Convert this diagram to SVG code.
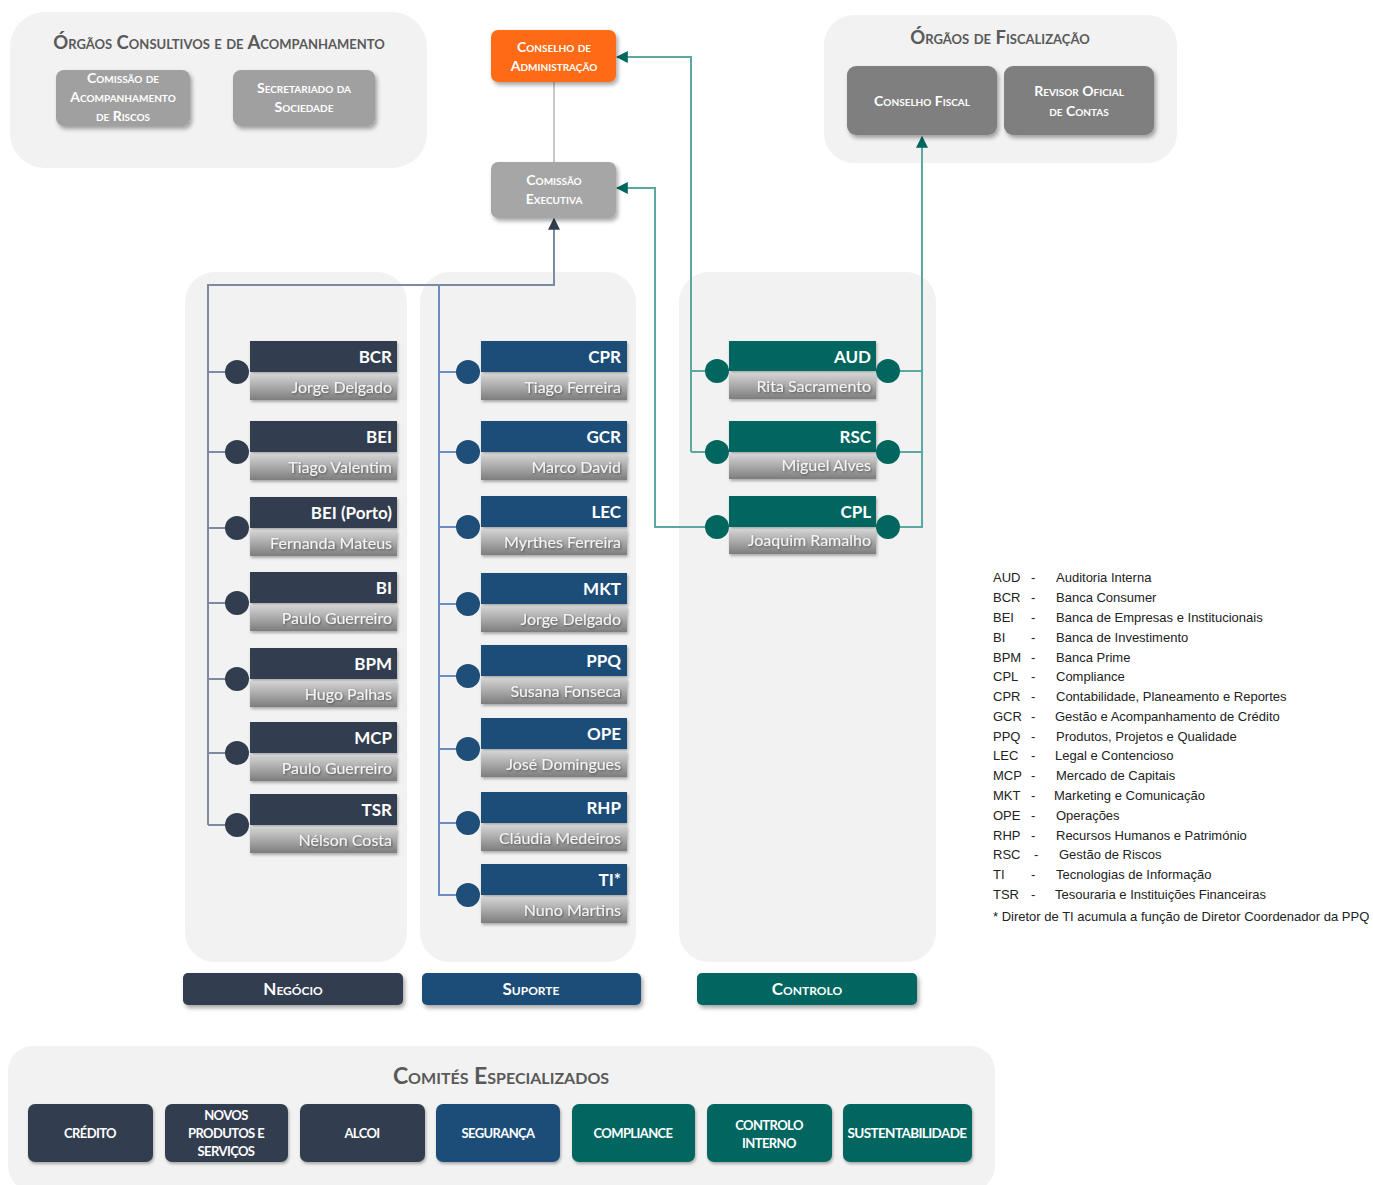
<svg xmlns="http://www.w3.org/2000/svg" width="1373" height="1185" viewBox="0 0 1373 1185">
<defs>
<filter id="sh" x="-20%" y="-20%" width="150%" height="160%"><feDropShadow dx="2" dy="3" stdDeviation="2" flood-color="#000" flood-opacity="0.35"/></filter>
<filter id="sh2" x="-10%" y="-10%" width="130%" height="140%"><feDropShadow dx="1" dy="2" stdDeviation="1.5" flood-color="#000" flood-opacity="0.3"/></filter>
<filter id="tsh" x="-10%" y="-30%" width="130%" height="170%"><feDropShadow dx="1" dy="1" stdDeviation="0.8" flood-color="#000" flood-opacity="0.45"/></filter>
<linearGradient id="ng" x1="0" y1="0" x2="0" y2="1"><stop offset="0" stop-color="#d4d4d4"/><stop offset="0.5" stop-color="#a9a9a9"/><stop offset="1" stop-color="#7d7d7d"/></linearGradient>
<marker id="aTeal" viewBox="0 0 10 10" refX="9" refY="5" markerWidth="12" markerHeight="12" markerUnits="userSpaceOnUse" orient="auto"><path d="M0,0 L10,5 L0,10 z" fill="#00665E"/></marker>
<marker id="aNavy" viewBox="0 0 10 10" refX="9" refY="5" markerWidth="12" markerHeight="12" markerUnits="userSpaceOnUse" orient="auto"><path d="M0,0 L10,5 L0,10 z" fill="#323E4F"/></marker>
</defs>
<style>
.panel{fill:#F2F2F2}
.sc{font-family:Lato,"Liberation Sans",sans-serif;font-variant:small-caps;text-anchor:middle}
.ttl{font-size:18.5px;fill:#595959;font-weight:bold}
.bw{fill:#fff;font-size:14px;font-weight:bold}
.hd{font-family:Lato,"Liberation Sans",sans-serif;font-weight:bold;font-size:17px;fill:#fff;text-anchor:end}
.nm{font-family:Lato,"Liberation Sans",sans-serif;font-size:16px;fill:#f4f4f4;text-anchor:end}
.neg{fill:#323E4F}.sup{fill:#1F4E79}.ctl{fill:#00665E}
.lg{font-family:"Liberation Sans",Arial,sans-serif;font-size:13px;fill:#222}
.cm{font-family:Lato,"Liberation Sans",sans-serif;font-weight:bold;font-size:13px;fill:#fff;text-anchor:middle;letter-spacing:-0.6px}
.cn{fill:none;stroke-width:2}
</style>
<rect width="1373" height="1185" fill="#fff"/>

<!-- panels -->
<rect class="panel" x="10" y="12" width="417" height="156" rx="35"/>
<rect class="panel" x="824" y="15" width="353" height="148" rx="30"/>
<rect class="panel" x="185" y="272" width="222" height="690" rx="30"/>
<rect class="panel" x="420" y="272" width="216" height="690" rx="30"/>
<rect class="panel" x="679" y="272" width="257" height="690" rx="30"/>
<rect class="panel" x="8" y="1046" width="987" height="145" rx="25"/>

<text class="sc ttl" x="219" y="49">Órgãos Consultivos e de Acompanhamento</text>
<text class="sc ttl" x="1000" y="44">Órgãos de Fiscalização</text>
<text class="sc" x="501" y="1084" style="font-size:23px;fill:#595959;font-weight:bold">Comités Especializados</text>

<!-- connectors -->
<g id="connectors">
<line x1="554" y1="82" x2="554" y2="162" stroke="#c8c8c8" stroke-width="2"/>
<polyline class="cn" stroke="#7D8AA0" points="208,825 208,285 554,285 554,219" marker-end="url(#aNavy)"/>
<polyline class="cn" stroke="#6A8FBF" points="439,285 439,895 460,895"/>
<g stroke="#7D8AA0" stroke-width="2">
<line x1="208" y1="372" x2="230" y2="372"/><line x1="208" y1="452" x2="230" y2="452"/><line x1="208" y1="528" x2="230" y2="528"/><line x1="208" y1="603" x2="230" y2="603"/><line x1="208" y1="679" x2="230" y2="679"/><line x1="208" y1="753" x2="230" y2="753"/><line x1="208" y1="825" x2="230" y2="825"/>
</g>
<g stroke="#6A8FBF" stroke-width="2">
<line x1="439" y1="372" x2="460" y2="372"/><line x1="439" y1="452" x2="460" y2="452"/><line x1="439" y1="527" x2="460" y2="527"/><line x1="439" y1="604" x2="460" y2="604"/><line x1="439" y1="676" x2="460" y2="676"/><line x1="439" y1="749" x2="460" y2="749"/><line x1="439" y1="823" x2="460" y2="823"/>
</g>
<polyline class="cn" stroke="#5BA8A2" points="705,371 691,371 691,57 617,57" marker-end="url(#aTeal)"/>
<line x1="691" y1="452" x2="705" y2="452" stroke="#5BA8A2" stroke-width="2"/>
<line x1="691" y1="371" x2="691" y2="452" stroke="#5BA8A2" stroke-width="2"/>
<polyline class="cn" stroke="#5BA8A2" points="705,527 655,527 655,188 617,188" marker-end="url(#aTeal)"/>
<polyline class="cn" stroke="#5BA8A2" points="900,527 922,527 922,137" marker-end="url(#aTeal)"/>
<line x1="900" y1="371" x2="922" y2="371" stroke="#5BA8A2" stroke-width="2"/>
<line x1="900" y1="452" x2="922" y2="452" stroke="#5BA8A2" stroke-width="2"/>
</g>

<!-- top nodes -->
<g id="n-car">
<rect x="56" y="70" width="134" height="56" rx="8" fill="#A0A0A0" filter="url(#sh)"/>
<text class="sc bw" x="123" y="83">Comissão de</text>
<text class="sc bw" x="123" y="102">Acompanhamento</text>
<text class="sc bw" x="123" y="121">de Riscos</text>
</g>
<g id="n-sec">
<rect x="233" y="70" width="142" height="56" rx="8" fill="#A0A0A0" filter="url(#sh)"/>
<text class="sc bw" x="304" y="93">Secretariado da</text>
<text class="sc bw" x="304" y="112">Sociedade</text>
</g>
<g id="n-ca">
<rect x="491" y="30" width="125" height="52" rx="7" fill="#FF6B17" filter="url(#sh)"/>
<text class="sc bw" x="554" y="52">Conselho de</text>
<text class="sc bw" x="554" y="71">Administração</text>
</g>
<g id="n-ce">
<rect x="491" y="162" width="125" height="56" rx="7" fill="#A6A6A6" filter="url(#sh)"/>
<text class="sc bw" x="554" y="185">Comissão</text>
<text class="sc bw" x="554" y="204">Executiva</text>
</g>
<g id="n-cf">
<rect x="847" y="66" width="150" height="69" rx="9" fill="#7F7F7F" filter="url(#sh)"/>
<text class="sc bw" x="922" y="106">Conselho Fiscal</text>
</g>
<g id="n-roc">
<rect x="1004" y="66" width="150" height="69" rx="9" fill="#7F7F7F" filter="url(#sh)"/>
<text class="sc bw" x="1079" y="96">Revisor Oficial</text>
<text class="sc bw" x="1079" y="116">de Contas</text>
</g>

<!-- Negócio nodes -->
<g id="n-bcr"><rect class="neg" x="250" y="341" width="147" height="31" filter="url(#sh2)"/><rect x="250" y="374" width="147" height="26" fill="url(#ng)" filter="url(#sh2)"/><circle class="neg" cx="237" cy="372" r="12"/><text class="hd" x="392" y="363">BCR</text><text class="nm" x="392" y="393" filter="url(#tsh)">Jorge Delgado</text></g>
<g id="n-bei"><rect class="neg" x="250" y="421" width="147" height="31" filter="url(#sh2)"/><rect x="250" y="454" width="147" height="26" fill="url(#ng)" filter="url(#sh2)"/><circle class="neg" cx="237" cy="452" r="12"/><text class="hd" x="392" y="443">BEI</text><text class="nm" x="392" y="473" filter="url(#tsh)">Tiago Valentim</text></g>
<g id="n-beip"><rect class="neg" x="250" y="497" width="147" height="31" filter="url(#sh2)"/><rect x="250" y="530" width="147" height="26" fill="url(#ng)" filter="url(#sh2)"/><circle class="neg" cx="237" cy="528" r="12"/><text class="hd" x="392" y="519">BEI (Porto)</text><text class="nm" x="392" y="549" filter="url(#tsh)">Fernanda Mateus</text></g>
<g id="n-bi"><rect class="neg" x="250" y="572" width="147" height="31" filter="url(#sh2)"/><rect x="250" y="605" width="147" height="26" fill="url(#ng)" filter="url(#sh2)"/><circle class="neg" cx="237" cy="603" r="12"/><text class="hd" x="392" y="594">BI</text><text class="nm" x="392" y="624" filter="url(#tsh)">Paulo Guerreiro</text></g>
<g id="n-bpm"><rect class="neg" x="250" y="648" width="147" height="31" filter="url(#sh2)"/><rect x="250" y="681" width="147" height="26" fill="url(#ng)" filter="url(#sh2)"/><circle class="neg" cx="237" cy="679" r="12"/><text class="hd" x="392" y="670">BPM</text><text class="nm" x="392" y="700" filter="url(#tsh)">Hugo Palhas</text></g>
<g id="n-mcp"><rect class="neg" x="250" y="722" width="147" height="31" filter="url(#sh2)"/><rect x="250" y="755" width="147" height="26" fill="url(#ng)" filter="url(#sh2)"/><circle class="neg" cx="237" cy="753" r="12"/><text class="hd" x="392" y="744">MCP</text><text class="nm" x="392" y="774" filter="url(#tsh)">Paulo Guerreiro</text></g>
<g id="n-tsr"><rect class="neg" x="250" y="794" width="147" height="31" filter="url(#sh2)"/><rect x="250" y="827" width="147" height="26" fill="url(#ng)" filter="url(#sh2)"/><circle class="neg" cx="237" cy="825" r="12"/><text class="hd" x="392" y="816">TSR</text><text class="nm" x="392" y="846" filter="url(#tsh)">Nélson Costa</text></g>

<!-- Suporte nodes -->
<g id="n-cpr"><rect class="sup" x="481" y="341" width="146" height="31" filter="url(#sh2)"/><rect x="481" y="374" width="146" height="26" fill="url(#ng)" filter="url(#sh2)"/><circle class="sup" cx="468" cy="372" r="12"/><text class="hd" x="621" y="363">CPR</text><text class="nm" x="621" y="393" filter="url(#tsh)">Tiago Ferreira</text></g>
<g id="n-gcr"><rect class="sup" x="481" y="421" width="146" height="31" filter="url(#sh2)"/><rect x="481" y="454" width="146" height="26" fill="url(#ng)" filter="url(#sh2)"/><circle class="sup" cx="468" cy="452" r="12"/><text class="hd" x="621" y="443">GCR</text><text class="nm" x="621" y="473" filter="url(#tsh)">Marco David</text></g>
<g id="n-lec"><rect class="sup" x="481" y="496" width="146" height="31" filter="url(#sh2)"/><rect x="481" y="529" width="146" height="26" fill="url(#ng)" filter="url(#sh2)"/><circle class="sup" cx="468" cy="527" r="12"/><text class="hd" x="621" y="518">LEC</text><text class="nm" x="621" y="548" filter="url(#tsh)">Myrthes Ferreira</text></g>
<g id="n-mkt"><rect class="sup" x="481" y="573" width="146" height="31" filter="url(#sh2)"/><rect x="481" y="606" width="146" height="26" fill="url(#ng)" filter="url(#sh2)"/><circle class="sup" cx="468" cy="604" r="12"/><text class="hd" x="621" y="595">MKT</text><text class="nm" x="621" y="625" filter="url(#tsh)">Jorge Delgado</text></g>
<g id="n-ppq"><rect class="sup" x="481" y="645" width="146" height="31" filter="url(#sh2)"/><rect x="481" y="678" width="146" height="26" fill="url(#ng)" filter="url(#sh2)"/><circle class="sup" cx="468" cy="676" r="12"/><text class="hd" x="621" y="667">PPQ</text><text class="nm" x="621" y="697" filter="url(#tsh)">Susana Fonseca</text></g>
<g id="n-ope"><rect class="sup" x="481" y="718" width="146" height="31" filter="url(#sh2)"/><rect x="481" y="751" width="146" height="26" fill="url(#ng)" filter="url(#sh2)"/><circle class="sup" cx="468" cy="749" r="12"/><text class="hd" x="621" y="740">OPE</text><text class="nm" x="621" y="770" filter="url(#tsh)">José Domingues</text></g>
<g id="n-rhp"><rect class="sup" x="481" y="792" width="146" height="31" filter="url(#sh2)"/><rect x="481" y="825" width="146" height="26" fill="url(#ng)" filter="url(#sh2)"/><circle class="sup" cx="468" cy="823" r="12"/><text class="hd" x="621" y="814">RHP</text><text class="nm" x="621" y="844" filter="url(#tsh)">Cláudia Medeiros</text></g>
<g id="n-ti"><rect class="sup" x="481" y="864" width="146" height="31" filter="url(#sh2)"/><rect x="481" y="897" width="146" height="26" fill="url(#ng)" filter="url(#sh2)"/><circle class="sup" cx="468" cy="895" r="12"/><text class="hd" x="621" y="886">TI*</text><text class="nm" x="621" y="916" filter="url(#tsh)">Nuno Martins</text></g>

<!-- Controlo nodes -->
<g id="n-aud"><rect class="ctl" x="729" y="341" width="147" height="30" filter="url(#sh2)"/><rect x="729" y="373" width="147" height="26" fill="url(#ng)" filter="url(#sh2)"/><circle class="ctl" cx="717" cy="371" r="12"/><circle class="ctl" cx="888" cy="371" r="12"/><text class="hd" x="871" y="363">AUD</text><text class="nm" x="871" y="392" filter="url(#tsh)">Rita Sacramento</text></g>
<g id="n-rsc"><rect class="ctl" x="729" y="421" width="147" height="31" filter="url(#sh2)"/><rect x="729" y="454" width="147" height="25" fill="url(#ng)" filter="url(#sh2)"/><circle class="ctl" cx="717" cy="452" r="12"/><circle class="ctl" cx="888" cy="452" r="12"/><text class="hd" x="871" y="443">RSC</text><text class="nm" x="871" y="471" filter="url(#tsh)">Miguel Alves</text></g>
<g id="n-cpl"><rect class="ctl" x="729" y="496" width="147" height="31" filter="url(#sh2)"/><rect x="729" y="529" width="147" height="25" fill="url(#ng)" filter="url(#sh2)"/><circle class="ctl" cx="717" cy="527" r="12"/><circle class="ctl" cx="888" cy="527" r="12"/><text class="hd" x="871" y="518">CPL</text><text class="nm" x="871" y="546" filter="url(#tsh)">Joaquim Ramalho</text></g>

<!-- column labels -->
<g id="lbl-neg"><rect class="neg" x="183" y="973" width="220" height="32" rx="5" filter="url(#sh)"/><text class="sc bw" x="293" y="995" style="font-size:17px">Negócio</text></g>
<g id="lbl-sup"><rect class="sup" x="422" y="973" width="219" height="32" rx="5" filter="url(#sh)"/><text class="sc bw" x="531" y="995" style="font-size:17px">Suporte</text></g>
<g id="lbl-ctl"><rect class="ctl" x="697" y="973" width="220" height="32" rx="5" filter="url(#sh)"/><text class="sc bw" x="807" y="995" style="font-size:17px">Controlo</text></g>

<!-- legend -->
<g id="legend" class="lg">
<text x="993" y="582">AUD</text><text x="1031" y="582">-</text><text x="1056" y="582">Auditoria Interna</text>
<text x="993" y="602">BCR</text><text x="1031" y="602">-</text><text x="1056" y="602">Banca Consumer</text>
<text x="993" y="622">BEI</text><text x="1031" y="622">-</text><text x="1056" y="622">Banca de Empresas e Institucionais</text>
<text x="993" y="642">BI</text><text x="1031" y="642">-</text><text x="1056" y="642">Banca de Investimento</text>
<text x="993" y="662">BPM</text><text x="1031" y="662">-</text><text x="1056" y="662">Banca Prime</text>
<text x="993" y="681">CPL</text><text x="1031" y="681">-</text><text x="1056" y="681">Compliance</text>
<text x="993" y="701">CPR</text><text x="1031" y="701">-</text><text x="1056" y="701">Contabilidade, Planeamento e Reportes</text>
<text x="993" y="721">GCR</text><text x="1031" y="721">-</text><text x="1055" y="721">Gestão e Acompanhamento de Crédito</text>
<text x="993" y="741">PPQ</text><text x="1031" y="741">-</text><text x="1056" y="741">Produtos, Projetos e Qualidade</text>
<text x="993" y="760">LEC</text><text x="1031" y="760">-</text><text x="1055" y="760">Legal e Contencioso</text>
<text x="993" y="780">MCP</text><text x="1031" y="780">-</text><text x="1056" y="780">Mercado de Capitais</text>
<text x="993" y="800">MKT</text><text x="1031" y="800">-</text><text x="1054" y="800">Marketing e Comunicação</text>
<text x="993" y="820">OPE</text><text x="1031" y="820">-</text><text x="1056" y="820">Operações</text>
<text x="993" y="840">RHP</text><text x="1031" y="840">-</text><text x="1056" y="840">Recursos Humanos e Património</text>
<text x="993" y="859">RSC</text><text x="1034" y="859">-</text><text x="1059" y="859">Gestão de Riscos</text>
<text x="993" y="879">TI</text><text x="1031" y="879">-</text><text x="1056" y="879">Tecnologias de Informação</text>
<text x="993" y="899">TSR</text><text x="1031" y="899">-</text><text x="1055" y="899">Tesouraria e Instituições Financeiras</text>
<text x="993" y="921">* Diretor de TI acumula a função de Diretor Coordenador da PPQ</text>
</g>

<!-- committees -->
<g id="c-credito"><rect class="neg" x="28" y="1104" width="125" height="58" rx="7" filter="url(#sh2)"/><text class="cm" x="90" y="1138">CRÉDITO</text></g>
<g id="c-novos"><rect class="neg" x="165" y="1104" width="123" height="58" rx="7" filter="url(#sh2)"/><text class="cm" x="226" y="1120">NOVOS</text><text class="cm" x="226" y="1138">PRODUTOS E</text><text class="cm" x="226" y="1156">SERVIÇOS</text></g>
<g id="c-alcoi"><rect class="neg" x="300" y="1104" width="125" height="58" rx="7" filter="url(#sh2)"/><text class="cm" x="362" y="1138">ALCOI</text></g>
<g id="c-seg"><rect class="sup" x="436" y="1104" width="124" height="58" rx="7" filter="url(#sh2)"/><text class="cm" x="498" y="1138">SEGURANÇA</text></g>
<g id="c-comp"><rect class="ctl" x="572" y="1104" width="123" height="58" rx="7" filter="url(#sh2)"/><text class="cm" x="633" y="1138">COMPLIANCE</text></g>
<g id="c-ci"><rect class="ctl" x="707" y="1104" width="125" height="58" rx="7" filter="url(#sh2)"/><text class="cm" x="769" y="1130">CONTROLO</text><text class="cm" x="769" y="1148">INTERNO</text></g>
<g id="c-sust"><rect class="ctl" x="843" y="1104" width="129" height="58" rx="7" filter="url(#sh2)"/><text class="cm" x="907" y="1138" textLength="119" lengthAdjust="spacingAndGlyphs">SUSTENTABILIDADE</text></g>
</svg>
